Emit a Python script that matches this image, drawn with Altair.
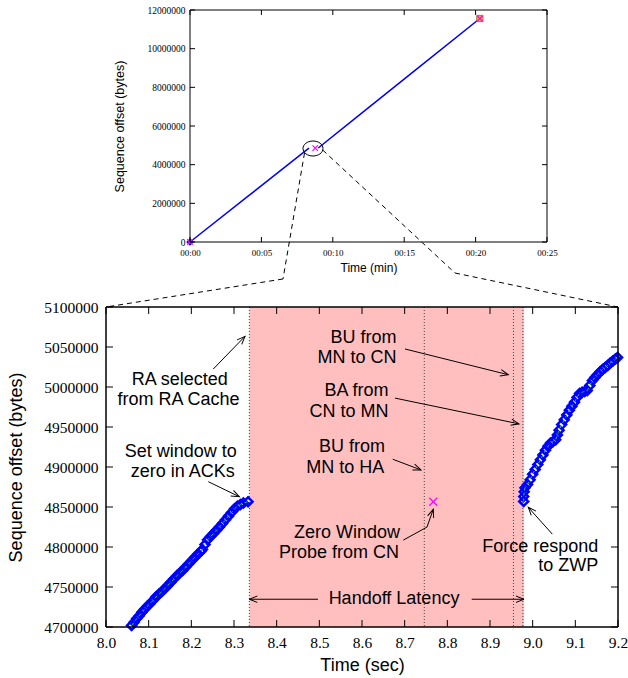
import math
import altair as alt
import pandas as pd

# ---------------- zoomed view data (time in s, sequence offset in bytes) ----------------
before_time = [8.060, 8.066, 8.072, 8.078, 8.084, 8.090, 8.096, 8.103, 8.110, 8.117,
               8.124, 8.131, 8.138, 8.145, 8.152, 8.159, 8.166, 8.173, 8.180, 8.187,
               8.194, 8.201, 8.208, 8.215, 8.222, 8.226, 8.232, 8.238, 8.245, 8.252,
               8.259, 8.266, 8.273, 8.280, 8.287, 8.294, 8.301, 8.308, 8.315, 8.322, 8.333]
before_seq = [4702000, 4706000, 4710500, 4714000, 4718500, 4722000, 4725500, 4729000, 4733000, 4737500,
              4741000, 4744500, 4748000, 4752000, 4756000, 4760000, 4764000, 4767500, 4771000, 4775000,
              4779000, 4783000, 4787000, 4791000, 4794500, 4797000, 4803000, 4809000, 4813000, 4817000,
              4821000, 4825000, 4829500, 4834000, 4838500, 4843000, 4847500, 4851000, 4853000, 4855000, 4856600]
after_time = [8.979, 8.979, 8.980, 8.982, 8.988, 8.994, 9.000, 9.006, 9.012, 9.018,
              9.024, 9.030, 9.036, 9.042, 9.048, 9.054, 9.058, 9.062, 9.068, 9.074,
              9.080, 9.086, 9.092, 9.098, 9.104, 9.110, 9.116, 9.122, 9.128, 9.134,
              9.140, 9.146, 9.152, 9.158, 9.164, 9.170, 9.176, 9.182, 9.188, 9.194, 9.199]
after_seq = [4857000, 4863000, 4869000, 4874000, 4878000, 4884000, 4891000, 4897000, 4903000, 4909000,
             4915000, 4921000, 4926000, 4930000, 4932000, 4934000, 4940000, 4946000, 4953000, 4959000,
             4965000, 4971000, 4976000, 4981000, 4987000, 4992000, 4993500, 4994500, 4995500, 5002000,
             5008000, 5012000, 5015500, 5019000, 5022000, 5024500, 5027000, 5030000, 5032500, 5035000, 5037000]
probe_time = [8.767]
probe_seq = [4856600]

handoff_start = 8.336
handoff_end = 8.98
event_times = [8.336, 8.746, 8.955, 8.977]

note_text = ["RA selected", "from RA Cache", "Set window to", "zero in ACKs",
             "BU from", "MN to CN", "BA from", "CN to MN", "BU from", "MN to HA",
             "Zero Window", "Probe from CN", "Force respond", "to ZWP", "Handoff Latency"]
note_time = [8.173, 8.170, 8.175, 8.180,
             8.681, 8.681, 8.662, 8.662, 8.654, 8.652,
             8.689, 8.687, 9.154, 9.154, 8.675]
note_seq = [5002000, 4977200, 4912600, 4887500,
            5055300, 5030400, 4989300, 4962800, 4918300, 4891900,
            4811000, 4786600, 4794300, 4769900, 4728400]
note_align = ["center", "center", "center", "center",
              "right", "right", "right", "right", "right", "right",
              "right", "right", "right", "right", "center"]

arrow_t0 = [8.2514, 8.2398, 8.7008, 8.6773, 8.6720, 8.6968, 8.7523, 9.0460, 8.4969, 8.8571]
arrow_s0 = [5022450, 4881650, 5047510, 4986130, 4909710, 4808610, 4824900, 4816130, 4734700, 4734700]
arrow_t1 = [8.3257, 8.3124, 8.9429, 8.9680, 8.7383, 8.7523, 8.7671, 8.9898, 8.3359, 8.9797]
arrow_s1 = [5063290, 4862860, 5015320, 4953930, 4896300, 4824900, 4847070, 4849580, 4734700, 4734700]
arrow_head = [True, True, True, True, True, False, True, True, True, True]

bottom_x_ticks = [8.0, 8.1, 8.2, 8.3, 8.4, 8.5, 8.6, 8.7, 8.8, 8.9, 9.0, 9.1, 9.2]
bottom_y_ticks = [4700000, 4750000, 4800000, 4850000, 4900000, 4950000, 5000000, 5050000, 5100000]

# ---------------- overview data (time in min) ----------------
over_a_time = [0.0, 4.0, 8.06, 8.333]
over_a_seq = [0, 2330000, 4702000, 4857000]
over_b_time = [8.98, 12.0, 16.0, 20.3]
over_b_seq = [4860000, 6650000, 9020000, 11560000]
over_probe_time = [0.0, 8.77, 20.3]
over_probe_seq = [0, 4857000, 11560000]
over_start_time = [0.0]
over_start_seq = [0]
over_end_time = [20.3]
over_end_seq = [11560000]
zoom_time = [8.613]
zoom_seq = [4836200]

top_x_ticks = [0, 5, 10, 15, 20, 25]
top_y_ticks = [0, 2000000, 4000000, 6000000, 8000000, 10000000, 12000000]

# ---------------- layout (pixels, relative to the zoomed plot's top-left corner) ----------------
BW, BH = 512, 320                 # zoomed plot
TX0, TX1 = 84, 441                # overview plot left/right
TY0, TY1 = -297, -65              # overview plot top/bottom
SERIF = "Liberation Serif"
SANS = "Liberation Sans"
one = pd.DataFrame({"k": [0]})

CROSS = "M-1,-1L1,1M-1,1L1,-1"
ELLIPSE = "M-1,0A1,0.75,0,1,0,1,0A1,0.75,0,1,0,-1,0Z"
HEAD = "M-1,-0.4L0,0L-1,0.4"


def pix_rule(x1, y1, x2, y2, **kw):
    return alt.Chart(one).mark_rule(**kw).encode(
        x=alt.value(x1), y=alt.value(y1), x2=alt.value(x2), y2=alt.value(y2))


def frame(x0, y0, x1, y1, sw):
    return [pix_rule(x0, y0, x1, y0, color="black", strokeWidth=sw),
            pix_rule(x0, y1, x1, y1, color="black", strokeWidth=sw),
            pix_rule(x0, y0, x0, y1, color="black", strokeWidth=sw),
            pix_rule(x1, y0, x1, y1, color="black", strokeWidth=sw)]


axis_common = dict(grid=False, ticks=False, domain=False, labelFont=SERIF, labelColor="black",
                   titleFont=SANS, titleColor="black", titleFontWeight="normal",
                   labelFlush=False, labelOverlap=False)

# ================= overview chart =================
xs_t = alt.Scale(domain=[0, 25], range=[TX0, TX1], nice=False, zero=False)
ys_t = alt.Scale(domain=[0, 12000000], range=[TY1, TY0], nice=False, zero=False)
ax_t = alt.Axis(orient="bottom", offset=TY1 - BH, values=top_x_ticks,
                labelExpr="'00:' + (datum.value < 10 ? '0' : '') + datum.value",
                title="Time (min)", labelFontSize=9, labelPadding=6, titleFontSize=12, titlePadding=5,
                **axis_common)
ay_t = alt.Axis(orient="left", offset=-TX0, values=top_y_ticks, format="d",
                title="Sequence offset (bytes)", labelFontSize=9.5, labelPadding=5,
                titleFontSize=12.5, titlePadding=21, **axis_common)


def tx(f):
    return alt.X(f"{f}:Q", scale=xs_t, axis=ax_t)


def ty(f):
    return alt.Y(f"{f}:Q", scale=ys_t, axis=ay_t)


top_line_df = pd.DataFrame({"t": over_a_time + over_b_time, "s": over_a_seq + over_b_seq,
                            "seg": ["a"] * len(over_a_time) + ["b"] * len(over_b_time)})
top_line = alt.Chart(top_line_df).mark_line(color="#0000ff", strokeWidth=1.5).encode(
    x=tx("t"), y=ty("s"), detail="seg:N")
top_start = alt.Chart(pd.DataFrame({"t": over_start_time, "s": over_start_seq})).mark_point(
    shape="diamond", filled=False, color="#0000ff", strokeWidth=1.5, size=30, opacity=1
).encode(x=tx("t"), y=ty("s"))
top_end = alt.Chart(pd.DataFrame({"t": over_end_time, "s": over_end_seq})).mark_point(
    shape="square", filled=True, fill="#e8b830", stroke="#8a6a10", strokeWidth=0.8, size=40, opacity=1
).encode(x=tx("t"), y=ty("s"))
top_probe = alt.Chart(pd.DataFrame({"t": over_probe_time, "s": over_probe_seq})).mark_point(
    shape=CROSS, filled=False, color="#ff00ff", strokeWidth=1.2, size=30, opacity=1
).encode(x=tx("t"), y=ty("s"))
top_zoom = alt.Chart(pd.DataFrame({"t": zoom_time, "s": zoom_seq})).mark_point(
    shape=ELLIPSE, filled=False, color="black", strokeWidth=1, size=400, opacity=1
).encode(x=tx("t"), y=ty("s"))

top_ticks = [
    alt.Chart(pd.DataFrame({"s": top_y_ticks})).mark_rule(color="black").encode(
        y=ty("s"), x=alt.value(TX0), x2=alt.value(TX0 + 5)),
    alt.Chart(pd.DataFrame({"s": top_y_ticks})).mark_rule(color="black").encode(
        y=ty("s"), x=alt.value(TX1 - 5), x2=alt.value(TX1)),
    alt.Chart(pd.DataFrame({"t": top_x_ticks})).mark_rule(color="black").encode(
        x=tx("t"), y=alt.value(TY1 - 5), y2=alt.value(TY1)),
    alt.Chart(pd.DataFrame({"t": top_x_ticks})).mark_rule(color="black").encode(
        x=tx("t"), y=alt.value(TY0), y2=alt.value(TY0 + 5)),
]

top_group = alt.layer(top_line, top_start, top_end, top_probe, top_zoom, *top_ticks,
                      *frame(TX0, TY0, TX1, TY1, 1))

# ================= zoomed chart =================
xs_b = alt.Scale(domain=[8.0, 9.2], nice=False, zero=False)
ys_b = alt.Scale(domain=[4700000, 5100000], nice=False, zero=False)
ax_b = alt.Axis(orient="bottom", values=bottom_x_ticks, format=".1f", title="Time (sec)",
                labelFontSize=15.5, labelPadding=8, titleFontSize=18, titlePadding=6, **axis_common)
ay_b = alt.Axis(orient="left", values=bottom_y_ticks, format="d", title="Sequence offset (bytes)",
                labelFontSize=15.5, labelPadding=8, titleFontSize=18, titlePadding=18, **axis_common)


def bx(f):
    return alt.X(f"{f}:Q", scale=xs_b, axis=ax_b)


def by(f):
    return alt.Y(f"{f}:Q", scale=ys_b, axis=ay_b)


def bpx(t):
    return (t - 8.0) / 1.2 * BW


def bpy(s):
    return (5100000 - s) / 400000 * BH


band = alt.Chart(pd.DataFrame({"t0": [handoff_start], "t1": [handoff_end]})).mark_rect(
    color="#ffbfbf").encode(x=bx("t0"), x2=alt.X2("t1:Q"), y=alt.value(0), y2=alt.value(BH))
events = alt.Chart(pd.DataFrame({"t": event_times})).mark_rule(
    color="#444444", strokeWidth=1, strokeDash=[1, 2]).encode(x=bx("t"), y=alt.value(0), y2=alt.value(BH))

pk_df = pd.DataFrame({"t": before_time + after_time, "s": before_seq + after_seq,
                      "seg": ["a"] * len(before_time) + ["b"] * len(after_time)})
diamonds = alt.Chart(pk_df).mark_point(
    shape="diamond", filled=False, color="#0000ff", strokeWidth=2.5, size=80, opacity=1).encode(
    x=bx("t"), y=by("s"))
green = alt.Chart(pk_df).mark_line(color="#22cc22", strokeWidth=1, strokeDash=[3, 3]).encode(
    x=bx("t"), y=by("s"), detail="seg:N")
probe = alt.Chart(pd.DataFrame({"t": probe_time, "s": probe_seq})).mark_point(
    shape=CROSS, filled=False, color="#ff00ff", strokeWidth=1.2, size=64, opacity=1).encode(
    x=bx("t"), y=by("s"))

arr_df = pd.DataFrame({"t0": arrow_t0, "s0": arrow_s0, "t1": arrow_t1, "s1": arrow_s1, "head": arrow_head})
arr_df["ang"] = [
    math.degrees(math.atan2(bpy(b) - bpy(a), bpx(d) - bpx(c))) % 360
    for c, a, d, b in zip(arrow_t0, arrow_s0, arrow_t1, arrow_s1)]
arrows = alt.Chart(arr_df).mark_rule(color="black", strokeWidth=1).encode(
    x=bx("t0"), y=by("s0"), x2=alt.X2("t1:Q"), y2=alt.Y2("s1:Q"))
heads = alt.Chart(arr_df[arr_df["head"]]).mark_point(
    shape=HEAD, filled=False, color="black", strokeWidth=1, size=256, opacity=1).encode(
    x=bx("t1"), y=by("s1"), angle=alt.Angle("ang:Q", scale=None))

notes_df = pd.DataFrame({"txt": note_text, "t": note_time, "s": note_seq, "al": note_align})
notes_c = alt.Chart(notes_df[notes_df["al"] == "center"]).mark_text(
    font=SANS, fontSize=18, align="center", baseline="alphabetic", color="black").encode(
    x=bx("t"), y=by("s"), text="txt:N")
notes_r = alt.Chart(notes_df[notes_df["al"] == "right"]).mark_text(
    font=SANS, fontSize=18, align="right", baseline="alphabetic", color="black").encode(
    x=bx("t"), y=by("s"), text="txt:N")

bot_ticks = [
    alt.Chart(pd.DataFrame({"s": bottom_y_ticks})).mark_rule(color="black").encode(
        y=by("s"), x=alt.value(0), x2=alt.value(7)),
    alt.Chart(pd.DataFrame({"s": bottom_y_ticks})).mark_rule(color="black").encode(
        y=by("s"), x=alt.value(BW - 7), x2=alt.value(BW)),
    alt.Chart(pd.DataFrame({"t": bottom_x_ticks})).mark_rule(color="black").encode(
        x=bx("t"), y=alt.value(BH - 7), y2=alt.value(BH)),
    alt.Chart(pd.DataFrame({"t": bottom_x_ticks})).mark_rule(color="black").encode(
        x=bx("t"), y=alt.value(0), y2=alt.value(7)),
]

# dashed zoom connectors (pixel space) and a corner anchor pinning the page origin
dash = dict(color="black", strokeWidth=1, strokeDash=[5, 4])
connectors = [
    pix_rule(198.5, -154, 177, -28, **dash),
    pix_rule(177, -28, 0, 0, **dash),
    pix_rule(216.7, -157, 349, -34, **dash),
    pix_rule(349, -34, BW, 0, **dash),
]
corner = alt.Chart(one).mark_rect(color="white").encode(
    x=alt.value(-106), x2=alt.value(-105), y=alt.value(-307), y2=alt.value(-306))

bottom_group = alt.layer(band, events, diamonds, green, probe, arrows, heads, notes_c, notes_r,
                         *bot_ticks, *frame(0, 0, BW, BH, 1.5), *connectors, corner)

chart = alt.layer(top_group, bottom_group).resolve_scale(
    x="independent", y="independent"
).properties(
    width=BW, height=BH, padding=0
).configure_view(stroke=None)

chart.save("out.html", embed_options={"renderer": "svg", "actions": False})
